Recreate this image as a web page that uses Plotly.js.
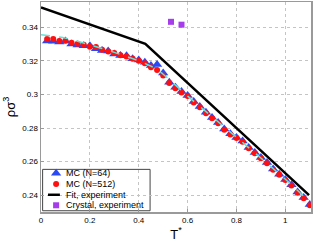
<!DOCTYPE html>
<html><head><meta charset="utf-8">
<script src="https://cdn.plot.ly/plotly-3.0.1.min.js"></script>
<style>html,body{margin:0;padding:0;background:#fff;}#c{width:316px;height:243px;}</style>
</head><body><div id="c"></div>
<script>
// Temperatures of the MC runs
const T_mc = [0.025,0.05,0.075,0.1,0.125,0.15,0.175,0.2,0.225,0.25,0.275,0.3,0.325,0.35,0.375,0.4,0.425,0.45,0.475,0.5,0.525,0.55,0.575,0.6,0.625,0.65,0.675,0.7,0.725,0.75,0.775,0.8,0.825,0.85,0.875,0.9,0.925,0.95,0.975,1.0,1.025,1.05,1.075,1.1];
// MC (N=64)
const rho_n64 = [0.3318,0.3316,0.3312,0.3318,0.3300,0.3294,0.3290,0.3290,0.3272,0.3262,0.3258,0.3240,0.3232,0.3230,0.3212,0.3205,0.3192,0.3172,0.3178,0.3128,0.3072,0.3042,0.3018,0.2994,0.2958,0.2928,0.2894,0.2862,0.2833,0.2794,0.2766,0.2744,0.2722,0.2684,0.2654,0.2624,0.2594,0.2556,0.2525,0.2494,0.2462,0.2419,0.2386,0.2344];
// MC (N=512)
const rho_n512 = [0.3330,0.3330,0.3318,0.3320,0.3308,0.3302,0.3296,0.3283,0.3282,0.3266,0.3256,0.3246,0.3233,0.3226,0.3212,0.3200,0.3186,0.3162,0.3145,0.3112,0.3068,0.3037,0.3012,0.2990,0.2952,0.2924,0.2888,0.2858,0.2829,0.2790,0.2762,0.2740,0.2718,0.2680,0.2650,0.2620,0.2590,0.2552,0.2521,0.2490,0.2458,0.2415,0.2382,0.2340];
// Fit of MC data (cyan dashed)
const T_mcfit = [0,0.1,0.2,0.3,0.4,0.45,0.5,0.6,0.8,1.0,1.1];
const rho_mcfit = [0.3355,0.3335,0.3295,0.3250,0.3200,0.3168,0.3120,0.2990,0.2745,0.2495,0.2360];
// Fit, experiment
const T_fit = [0,0.427,1.097];
const rho_fit = [0.3518,0.3301,0.2400];
// Crystal, experiment
const T_cry = [0.532,0.575];
const rho_cry = [0.3432,0.3415];
// Legend labels
const legendLabels = ["MC (N=64)","MC (N=512)","Fit, experiment","Crystal, experiment"];

const BLUE='#2a48f4', RED='#ff1010', PURPLE='#a63cec', CYAN='#5fe3d6';
const font='Liberation Sans, Arial, sans-serif';

const traces = [
  {x:T_mc,y:rho_n64,mode:'markers',type:'scatter',marker:{symbol:'triangle-up',size:9,color:BLUE,line:{width:0}}},
  {x:T_mc,y:rho_n512,mode:'markers',type:'scatter',marker:{symbol:'circle',size:6,color:RED,line:{width:0}}},
  {x:T_mcfit,y:rho_mcfit,mode:'lines',type:'scatter',line:{color:CYAN,width:1.5,dash:'dash',shape:'spline',smoothing:0.6}},
  {x:T_fit,y:rho_fit,mode:'lines',type:'scatter',line:{color:'#000',width:2.5}},
  {x:T_cry,y:rho_cry,mode:'markers',type:'scatter',marker:{symbol:'square',size:6,color:PURPLE,line:{width:0}}}
];

// manual legend (overlay axes spanning the plot area 0..1)
const lgY = [0.184,0.133,0.082,0.032];
const lgX = 0.056;
traces.push({x:[lgX],y:[lgY[0]],xaxis:'x2',yaxis:'y2',mode:'markers',type:'scatter',marker:{symbol:'triangle-up',size:9,color:BLUE}});
traces.push({x:[lgX],y:[lgY[1]],xaxis:'x2',yaxis:'y2',mode:'markers',type:'scatter',marker:{symbol:'circle',size:6,color:RED}});
traces.push({x:[0.026,0.070],y:[lgY[2],lgY[2]],xaxis:'x2',yaxis:'y2',mode:'lines',type:'scatter',line:{color:'#000',width:2.5}});
traces.push({x:[lgX],y:[lgY[3]],xaxis:'x2',yaxis:'y2',mode:'markers',type:'scatter',marker:{symbol:'square',size:6,color:PURPLE}});

const annotations = legendLabels.map((t,i)=>({xref:'paper',yref:'paper',x:0.085,y:lgY[i],xanchor:'left',yanchor:'middle',text:t,showarrow:false,font:{family:font,size:9,color:'#000'}}));

const layout = {
  width:316,height:243,
  margin:{l:41,r:5,t:2,b:31},
  paper_bgcolor:'#fff',plot_bgcolor:'#fff',
  showlegend:false,
  font:{family:font,size:8,color:'#000'},
  xaxis:{range:[0,1.105],dtick:0.2,tick0:0,showgrid:true,gridcolor:'#c4c4c4',griddash:'dot',gridwidth:1,
    zeroline:false,showline:true,mirror:true,linecolor:'#9a9a9a',linewidth:1.5,ticks:'inside',ticklen:3,tickcolor:'#9a9a9a',
    tickfont:{family:font,size:8,color:'#000'},
    title:{text:'T<sup>*</sup>',font:{family:font,size:13,color:'#000'},standoff:2}},
  yaxis:{range:[0.23,0.355],dtick:0.02,tick0:0.24,showgrid:true,gridcolor:'#c4c4c4',griddash:'dot',gridwidth:1,
    zeroline:false,showline:true,mirror:true,linecolor:'#9a9a9a',linewidth:1.5,ticks:'inside',ticklen:3,tickcolor:'#9a9a9a',
    tickfont:{family:font,size:8,color:'#000'},
    title:{text:'ρσ<sup>3</sup>',font:{family:font,size:13,color:'#000'},standoff:4}},
  xaxis2:{overlaying:'x',range:[0,1],visible:false,fixedrange:true},
  yaxis2:{overlaying:'y',range:[0,1],visible:false,fixedrange:true},
  shapes:[{type:'rect',xref:'paper',yref:'paper',x0:0.006,x1:0.404,y0:0.006,y1:0.203,
    line:{color:'#444',width:1},fillcolor:'#fff',layer:'between'}],
  annotations:annotations
};
Plotly.newPlot('c',traces,layout,{staticPlot:true,displayModeBar:false});
</script></body></html>
